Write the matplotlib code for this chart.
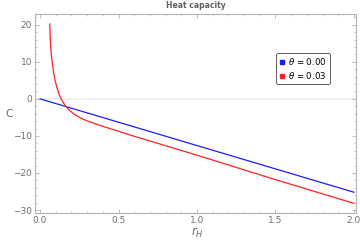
import matplotlib
matplotlib.use("Agg")
import matplotlib.pyplot as plt
from matplotlib.lines import Line2D
from matplotlib.ticker import MultipleLocator

# data
r_blue = [0.0, 2.0]
C_blue = [0.0, -25.2]

r_red = [0.062, 0.065, 0.068, 0.073, 0.079, 0.087, 0.096, 0.108, 0.121, 0.134,
         0.150, 0.164, 0.19, 0.22, 0.26, 0.30, 0.35, 0.40, 0.50, 0.60, 0.75,
         1.0, 1.25, 1.5, 1.75, 2.0]
C_red = [20.2, 16.6, 13.9, 11.5, 9.4, 7.0, 5.0, 3.0, 1.3, 0.0,
         -1.1, -2.0, -3.2, -4.2, -5.2, -5.95, -6.7, -7.4, -8.75, -10.1, -12.0,
         -15.2, -18.5, -21.8, -25.0, -28.2]

labels = [r"$\theta$ = 0.00", r"$\theta$ = 0.03"]
colors = ["#1a1aff", "#ff2020"]
xticks = [0.0, 0.5, 1.0, 1.5, 2.0]
yticks = [-30, -20, -10, 0, 10, 20]

W, H = 360, 244
fig = plt.figure(figsize=(W/100, H/100), dpi=100)
ax = fig.add_axes([35/W, 1-213/H, (355.7-35)/W, (213-14)/H])

ax.axhline(0, color="#ececec", lw=1.2, zorder=0)
ax.plot(r_blue, C_blue, color=colors[0], lw=0.9)
ax.plot(r_red, C_red, color=colors[1], lw=0.9)

ax.set_xlim(-0.032, 2.011)
ax.set_ylim(-30.8, 22.9)
ax.set_xticks(xticks)
ax.set_xticklabels([f"{v:.1f}" for v in xticks])
ax.set_yticks(yticks)
ax.set_yticklabels([str(v).replace("-", "\u2212") for v in yticks])
ax.xaxis.set_minor_locator(MultipleLocator(0.1))
ax.yaxis.set_minor_locator(MultipleLocator(2))

fc = "#b4b4b4"
for s in ax.spines.values():
    s.set_color(fc)
    s.set_linewidth(0.8)
ax.tick_params(which="both", direction="in", top=True, right=True, color=fc,
               labelcolor="#707070", labelsize=6.5, pad=2)
ax.tick_params(which="major", length=3, width=0.6)
ax.tick_params(which="minor", length=1.5, width=0.5)

fig.text(196/W, 1-6/H, "Heat capacity", ha="center", va="center",
         fontsize=5.5, color="#606060", fontweight="bold")
fig.text(9/W, 1-114/H, "C", ha="center", va="center", fontsize=8, color="#707070")
fig.text(197/W, 1-233/H, r"$r_H$", ha="center", va="center", fontsize=8.5,
         color="#707070")

handles = [Line2D([], [], ls="none", marker="s", markersize=3, color=c) for c in colors]
leg = fig.legend(handles, labels, loc="upper left",
                 bbox_to_anchor=(276/W, 1-53/H), fontsize=6.2,
                 frameon=True, fancybox=True, handlelength=0.6,
                 handletextpad=0.5, borderpad=0.35, labelspacing=0.35,
                 borderaxespad=0)
leg.get_frame().set_edgecolor("#444444")
leg.get_frame().set_linewidth(0.6)
leg.get_frame().set_alpha(1)

fig.savefig("out.png", dpi=100)
